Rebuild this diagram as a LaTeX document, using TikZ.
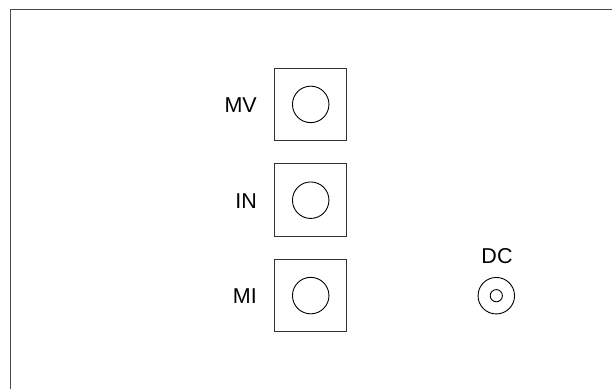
\documentclass[tikz,border=0pt]{standalone}
\usepackage{fontspec}
\setmainfont{Liberation Sans}
\definecolor{framegray}{HTML}{4A4A4A}
\definecolor{boxgray}{HTML}{333333}
\begin{document}
\begin{tikzpicture}[x=1pt,y=1pt,
  jackbox/.style={draw=boxgray,line width=1pt,minimum size=72.5pt,inner sep=0pt},
  jackhole/.style={draw=black,line width=0.9pt,circle,minimum size=36.5pt,inner sep=0pt},
  lbl/.style={font=\fontsize{21.5}{21.5}\selectfont,inner sep=0pt,anchor=base east}]
\useasboundingbox (0,0) rectangle (612,388);
\draw[framegray,line width=1.7pt] (10.5,-5) -- (10.5,378.5) -- (620,378.5);
% jacks
\node[jackbox] (mvbox) at (310.7,283.7) {};
\node[jackhole] (mvhole) at (310.7,283.6) {};
\node[jackbox] (inbox) at (310.7,187.8) {};
\node[jackhole] (inhole) at (310.7,187.8) {};
\node[jackbox] (mibox) at (310.7,92.5) {};
\node[jackhole] (mihole) at (310.7,92.4) {};
\node[lbl] (mv) at (257,275.7) {MV};
\node[lbl] (in) at (257,179) {IN};
\node[lbl] (mi) at (257,84.7) {MI};
% DC
\node[draw=black,line width=0.9pt,circle,minimum size=36.5pt,inner sep=0pt] (dcouter) at (496.3,92.3) {};
\node[draw=black,line width=0.9pt,circle,minimum size=12.2pt,inner sep=0pt] (dcinner) at (496.3,92.3) {};
\node[font=\fontsize{21.5}{21.5}\selectfont,inner sep=0pt,anchor=base] (dc) at (497,124.2) {DC};
\end{tikzpicture}
\end{document}
